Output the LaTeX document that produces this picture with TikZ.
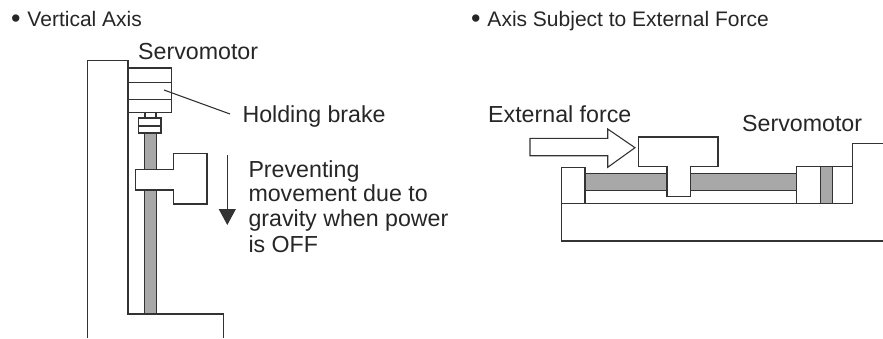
\documentclass[tikz,border=0pt]{standalone}
\usepackage{fontspec}
\setmainfont{Liberation Sans}
\usetikzlibrary{arrows.meta}
\definecolor{linegray}{gray}{0.2}
\definecolor{screwgray}{gray}{0.66}
\newcommand{\titledot}{\raisebox{-1.6pt}{\fontsize{27}{27}\selectfont •}\hspace{1pt} }
\tikzset{
  part/.style={draw=linegray,fill=white,line width=1.1pt},
  edge/.style={draw=linegray,line width=1.1pt},
  screw/.style={draw=linegray,fill=screwgray,line width=1.1pt},
  label/.style={inner sep=0pt,anchor=base west,font=\fontsize{23.2}{25}\selectfont,text=black!85},
  title/.style={inner sep=0pt,anchor=base west,font=\fontsize{21}{24}\selectfont,text=black!85},
  gravity/.style={-{Triangle[length=16pt,width=17pt]},draw=linegray,line width=1.1pt},
}
\begin{document}
\begin{tikzpicture}[x=1pt,y=-1pt]
  \useasboundingbox (0,0) rectangle (883,338);
  % left side: vertical axis
  \node[title] (vtitle) at (11,26) {\titledot Vertical Axis};
  \draw[edge] (87.5,338) -- (87.5,60.7) -- (128,60.7) -- (128,314) -- (223.7,314) -- (223.7,338);
  \draw[screw] (144.7,133) rectangle (156.3,314);
  \draw[part] (128,68) rectangle (171.5,112.7);
  \draw[edge] (128,82.3) -- (171.5,82.3) (128,99.3) -- (171.5,99.3);
  \draw[part] (145,112.7) rectangle (156,118);
  \draw[part] (138.7,118) rectangle (161,133);
  \draw[edge] (138.7,126) -- (161,126);
  \draw[part] (135.3,169.3) -- (173.3,169.3) -- (173.3,153.7) -- (207,153.7) -- (207,204) -- (173.3,204) -- (173.3,190) -- (135.3,190) -- cycle;
  \coordinate (brake) at (164,90);
  \coordinate (brakeend) at (230,114);
  \draw[edge] (brake) -- (brakeend);
  \coordinate (gtop) at (227.3,155);
  \coordinate (gtip) at (227.3,225);
  \draw[gravity] (gtop) -- (gtip);
  \node[label] (motora) at (138,59) {Servomotor};
  \node[label] (brakelabel) at (242.3,122.3) {Holding brake};
  \node[label] (prevent) at (248.3,177) {Preventing};
  \node[label] (prevent2) at (248.3,201.7) {movement due to};
  \node[label] (prevent3) at (248.3,226.7) {gravity when power};
  \node[label] (prevent4) at (248.3,252) {is OFF};
  % right side: external force
  \node[title] (ftitle) at (471,26) {\titledot Axis Subject to External Force};
  \draw[part] (530,138.3) -- (607.7,138.3) -- (607.7,129) -- (635,147.7) -- (607.7,167.3) -- (607.7,155.7) -- (530,155.7) -- cycle;
  \draw[screw] (585,173.7) rectangle (796.3,190.7);
  \draw[part] (561.7,167.3) rectangle (585,203.7);
  \draw[edge] (883,241) -- (561.7,241) -- (561.7,203.7) -- (852.3,203.7) -- (852.3,143.7) -- (883,143.7);
  \draw[part] (638.3,137) -- (718,137) -- (718,166.3) -- (690.7,166.3) -- (690.7,196.7) -- (667,196.7) -- (667,166.3) -- (638.3,166.3) -- cycle;
  \draw[part] (796.3,166.3) rectangle (852.3,203.7);
  \draw[screw] (820.3,166.3) rectangle (832.3,203.7);
  \node[label] (force) at (488,122.7) {External force};
  \node[label] (motorb) at (742,131) {Servomotor};
\end{tikzpicture}
\end{document}
